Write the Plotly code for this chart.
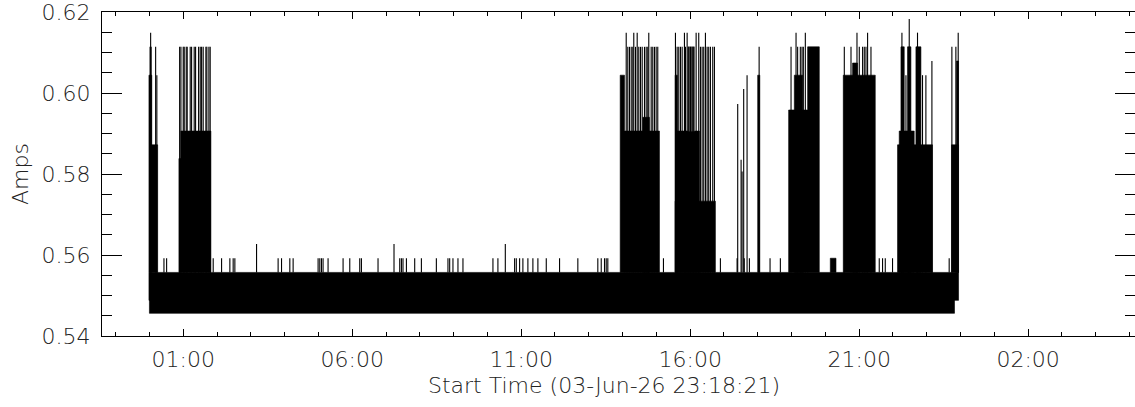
import pandas as pd
import plotly.graph_objects as go

# ---------------- data (times are hours after 2026-06-04 00:00) ----------------
REF_DAY = pd.Timestamp("2026-06-04 00:00:00")
x_range_hours = [-1.403, 29.161]
y_range = [0.54, 0.62]
y_major_ticks = [0.54, 0.56, 0.58, 0.60, 0.62]
y_tick_labels = ["0.54", "0.56", "0.58", "0.60", "0.62"]

# continuous base band of readings
band_hours = [-0.014, 23.94]
band_low = 0.5488
band_high = 0.5557
floor_hours = [0.0, 23.82]
floor_low = 0.5456

# dense bursts: start hour, end hour, top amps
block_start = [-0.014, 0.070, 0.873, 0.930,
               13.929, 14.056, 14.597,
               15.555, 15.555, 15.584,
               17.997,
               18.913, 19.081, 19.475,
               20.146,
               20.530, 20.805,
               22.135, 22.185, 22.236, 22.431, 22.679,
               23.731, 23.880]
block_end = [0.070, 0.243, 0.930, 1.819,
             14.056, 15.091, 14.795,
             16.746, 15.620, 16.274,
             18.060,
             19.475, 19.327, 19.820,
             20.314,
             21.476, 20.953,
             23.170, 22.628, 22.333, 22.531, 22.827,
             23.940, 23.940]
block_top = [0.6044, 0.5872, 0.5838, 0.5906,
             0.6044, 0.5906, 0.5940,
             0.5733, 0.6044, 0.5906,
             0.6044,
             0.5958, 0.6044, 0.6114,
             0.5592,
             0.6044, 0.6074,
             0.5872, 0.5906, 0.6114, 0.6114, 0.6114,
             0.5872, 0.6079]

# very dense (grey-looking) stretch
dense_start = [15.928]
dense_end = [16.126]
dense_low = [0.5906]
dense_top = [0.6114]

# individual spikes above the base band
small_spike_hours = [0.430, 0.509, 1.887, 2.135, 2.380, 2.478, 2.528, 3.808, 3.909, 4.154,
                     4.252, 4.991, 5.041, 5.091, 5.138, 5.286, 5.730, 5.928, 6.223, 6.273,
                     6.764, 7.406, 7.456, 7.503, 7.604, 7.849, 8.047, 8.490, 8.833, 8.884,
                     8.981, 9.129, 9.277, 10.164, 10.311, 10.805, 10.855, 10.953, 11.050,
                     11.198, 11.346, 11.494, 11.742, 12.135, 12.676, 13.267, 13.368, 13.465,
                     13.515, 13.563, 15.209, 16.894, 17.388, 17.600, 17.752, 18.363, 18.668,
                     21.594, 21.692, 21.772, 21.987, 23.663]
small_spike_amps = [0.5592] * len(small_spike_hours)

mid_spike_hours = [3.170, 7.237, 10.530]
mid_spike_amps = [0.5627, 0.5627, 0.5627]

tall_spike_hours = [17.406, 17.506, 17.535, 17.583, 17.683, 18.040,
                    0.020, 0.036, 0.050, 0.184, 0.220,
                    0.894, 0.932, 1.000, 1.030, 1.089, 1.118, 1.207, 1.248, 1.325, 1.366,
                    1.455, 1.503, 1.544, 1.591, 1.671, 1.700, 1.760, 1.798,
                    14.154, 14.204, 14.255, 14.302, 14.382, 14.479, 14.530, 14.580, 14.648,
                    14.698, 14.745, 14.846, 14.893, 14.943, 14.993, 15.041,
                    14.107, 14.331, 14.432, 14.775,
                    15.614, 15.662, 15.712, 15.762, 15.860, 15.957, 16.007, 16.058, 16.105,
                    16.303, 16.353, 16.401, 16.501, 16.548, 16.599, 16.667, 16.717,
                    15.564, 15.830, 15.910, 16.176, 16.253, 16.451,
                    18.984, 19.179, 19.259, 19.309, 19.348, 19.132, 19.407,
                    20.560, 20.758, 21.003, 21.101, 21.151, 21.201, 21.349, 20.935, 21.249,
                    22.265, 22.726, 22.481, 23.152, 22.384, 22.874, 22.974,
                    23.743, 23.861, 23.930]
tall_spike_amps = [0.5973, 0.5835, 0.5806, 0.6010, 0.6044, 0.6114,
                   0.6114, 0.6149, 0.6114, 0.6114, 0.6044,
                   ] + [0.6114] * 18 + [0.6114] * 16 + [0.6149] * 4 + \
                  [0.6114] * 17 + [0.6149] * 6 + \
                  [0.6114] * 5 + [0.6149] * 2 + \
                  [0.6114] * 7 + [0.6149] * 2 + \
                  [0.6149, 0.6149, 0.6183, 0.6079, 0.6044, 0.6044, 0.6044] + \
                  [0.6114, 0.6114, 0.6149]

x_title = "Start Time (03-Jun-26 23:18:21)"
y_title = "Amps"


def ts(h):
    return REF_DAY + pd.to_timedelta(h, unit="h")


def rects(starts, ends, lows, tops):
    xs, ys = [], []
    for s, e, lo, t in zip(starts, ends, lows, tops):
        xs += [ts(s), ts(e), ts(e), ts(s), ts(s), None]
        ys += [lo, lo, t, t, lo, None]
    return xs, ys


def spikes(hours, amps, base):
    xs, ys = [], []
    for h, a in zip(hours, amps):
        xs += [ts(h), ts(h), None]
        ys += [base, a, None]
    return xs, ys


fig = go.Figure()

bx, by = rects([band_hours[0], floor_hours[0]], [band_hours[1], floor_hours[1]],
               [band_low, floor_low], [band_high, band_low])
fig.add_trace(go.Scatter(x=bx, y=by, mode="lines", fill="toself", fillcolor="black",
                         line=dict(color="black", width=0.6), hoverinfo="skip", showlegend=False))

kx, ky = rects(block_start, block_end, [band_high] * len(block_start), block_top)
fig.add_trace(go.Scatter(x=kx, y=ky, mode="lines", fill="toself", fillcolor="black",
                         line=dict(color="black", width=0.6), hoverinfo="skip", showlegend=False))

dx, dy = rects(dense_start, dense_end, dense_low, dense_top)
fig.add_trace(go.Scatter(x=dx, y=dy, mode="lines", fill="toself", fillcolor="#6a6a6a",
                         line=dict(color="#6a6a6a", width=0.6), hoverinfo="skip", showlegend=False))

sx, sy = spikes(small_spike_hours + mid_spike_hours + tall_spike_hours,
                small_spike_amps + mid_spike_amps + tall_spike_amps, band_high)
fig.add_trace(go.Scatter(x=sx, y=sy, mode="lines", line=dict(color="black", width=1.1),
                         hoverinfo="skip", showlegend=False))

fig.add_trace(go.Scatter(x=[ts(x_range_hours[0])], y=[y_range[0]], yaxis="y2", mode="markers",
                         marker=dict(opacity=0), hoverinfo="skip", showlegend=False))

FONT = dict(family="DejaVu Sans", size=22, color="#222222", weight=200)

fig.update_layout(
    width=1135, height=407,
    margin=dict(l=102, r=0, t=9, b=71),
    paper_bgcolor="white", plot_bgcolor="white",
    font=FONT,
    xaxis=dict(
        range=[ts(x_range_hours[0]), ts(x_range_hours[1])],
        type="date",
        tick0=ts(1.0), dtick=5 * 3600 * 1000, tickformat="%H:%M",
        ticks="inside", ticklen=7, tickwidth=1, tickcolor="black",
        minor=dict(dtick=3600 * 1000, tick0=ts(1.0), ticks="inside", ticklen=4,
                   tickcolor="black", showgrid=False),
        showline=True, linecolor="black", linewidth=1, mirror="ticks",
        showgrid=False, zeroline=False, tickfont=FONT, ticklabelstandoff=4,
        ticklabeloverflow="allow",
    ),
    yaxis=dict(
        range=y_range, tickvals=y_major_ticks, ticktext=y_tick_labels,
        ticks="inside", ticklen=20, tickwidth=1, tickcolor="black",
        minor=dict(dtick=0.005, tick0=0.54, ticks="inside", ticklen=10,
                   tickcolor="black", showgrid=False),
        showline=True, linecolor="black", linewidth=1, mirror=False,
        showgrid=False, zeroline=False, tickfont=FONT, ticklabelstandoff=6,
        ticklabeloverflow="allow",
    ),
    yaxis2=dict(
        range=y_range, overlaying="y", side="right", tickvals=y_major_ticks,
        showticklabels=False, ticks="inside", ticklen=20, tickwidth=1, tickcolor="black",
        minor=dict(dtick=0.005, tick0=0.54, ticks="inside", ticklen=10,
                   tickcolor="black", showgrid=False),
        showline=False, showgrid=False, zeroline=False,
    ),
    annotations=[
        dict(text=x_title, xref="paper", yref="paper", x=0.486, y=-0.1530,
             xanchor="center", yanchor="middle", showarrow=False, font=FONT),
        dict(text=y_title, xref="paper", yref="paper", x=-0.0794, y=0.50,
             xanchor="center", yanchor="middle", textangle=-90, showarrow=False, font=FONT),
    ],
)

fig.write_html("out.html", config={"displayModeBar": False},
               post_script="document.body.style.margin='0';document.body.style.overflow='hidden';")
